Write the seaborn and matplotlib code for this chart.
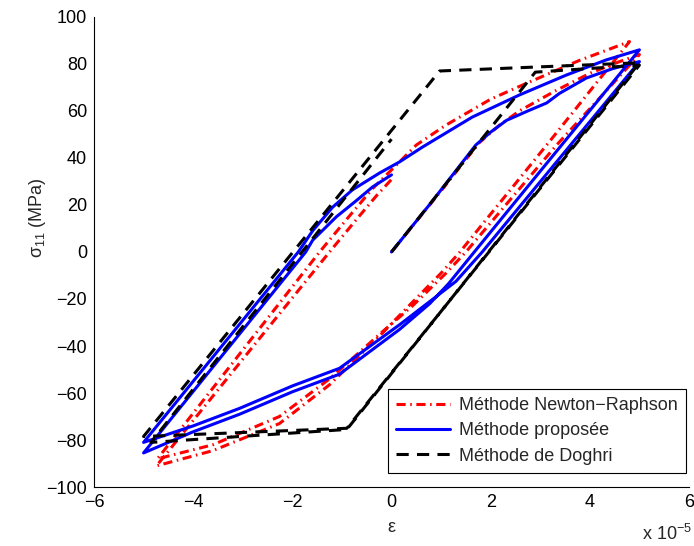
import pandas as pd
import matplotlib
matplotlib.use('Agg')
import matplotlib.pyplot as plt
import seaborn as sns

# strain in units of 1e-5, stress in MPa
eps_nr = [0, 1.0, 1.77, 2.18, 2.58, 3.3, 4.0, 4.6, 5.0,
          3.33, 1.5, 1.1, 0.42, -0.24, -1.25, -2.26, -3.6, -4.72,
          -1.45, -0.9, -0.38, 0.1, 0.5, 1.1, 2.0, 2.64, 3.79, 4.8,
          3.13, 1.38, 1.0, 0.3, -0.3, -1.25, -2.26, -3.6, -4.74,
          -1.25, -0.7, -0.3, 0.05]
sig_nr = [0, 26, 46.5, 54, 60, 68.5, 76, 81, 84,
          45.5, 0, -9, -23, -35, -54, -70, -82, -88,
          0, 14, 27, 37, 45.5, 54, 65, 71, 81.5, 89.5,
          45.5, 0, -9, -24, -37, -56.5, -73, -84.5, -91,
          0, 14, 24, 32]

eps_prop = [0, 0.8, 1.7, 2.0, 2.32, 2.75, 3.13, 3.39, 3.93, 4.46, 5.0,
            1.83, 1.3, 0.9, 0.16, -1.05, -2.0, -3.06, -4.0, -5.0,
            -1.88, -1.59, -1.19, -0.79, -0.24, 0.16, 0.63, 1.63, 2.58, 3.53, 4.33, 5.0,
            1.67, 1.15, 0.77, 0.16, -1.05, -2.0, -3.06, -4.0, -5.0,
            -1.73, -1.59, -1.11, -0.7, -0.38, 0.0]
sig_prop = [0, 21, 45.5, 51, 56, 60, 63.4, 67.5, 74, 78, 81,
            0, -12.5, -19, -31, -49.5, -57, -66.5, -74, -81,
            0, 9, 19, 26.4, 33.6, 38.3, 44.7, 57.4, 66.8, 75.3, 81.7, 86,
            0, -13.5, -22, -33, -52, -59.5, -69, -76.5, -85.5,
            0, 5, 15, 22, 27.7, 32.8]

eps_dog = [0, 2.9, 5.0, -0.9, -5.0, 0.97, 5.0, -0.9, -4.85, 0]
sig_dog = [0, 76.5, 79.5, -75, -78.5, 77, 80.5, -75.5, -81, 48]

labels = ['Méthode Newton\u2212Raphson', 'Méthode proposée', 'Méthode de Doghri']

sns.set_style("white")
plt.rcParams['font.family'] = ['Liberation Sans', 'DejaVu Sans']
plt.rcParams['mathtext.fontset'] = 'custom'
plt.rcParams['mathtext.rm'] = 'Liberation Sans'
plt.rcParams['mathtext.it'] = 'Liberation Sans:italic'

fig = plt.figure(figsize=(6.94, 5.46), dpi=100)
ax = fig.add_axes([0.1354, 0.108, 0.8574, 0.861])

df_nr = pd.DataFrame({'eps': eps_nr, 'sig': sig_nr})
df_prop = pd.DataFrame({'eps': eps_prop, 'sig': sig_prop})
df_dog = pd.DataFrame({'eps': eps_dog, 'sig': sig_dog})

sns.lineplot(data=df_nr, x='eps', y='sig', sort=False, estimator=None, ax=ax,
             color='red', lw=2.2, linestyle=(0, (3, 1.5, 0.5, 1.5)), label=labels[0])
sns.lineplot(data=df_prop, x='eps', y='sig', sort=False, estimator=None, ax=ax,
             color='blue', lw=2.2, label=labels[1])
sns.lineplot(data=df_dog, x='eps', y='sig', sort=False, estimator=None, ax=ax,
             color='black', lw=2.2, linestyle=(0, (4, 2.7)), label=labels[2])

ax.set_xlim(-6, 6)
ax.set_ylim(-100, 100)
ax.set_xticks(range(-6, 7, 2))
ax.set_yticks(range(-100, 101, 20))
ax.tick_params(direction='in', length=4, width=0.8, labelsize=13, colors='black', pad=5)
for side in ['top', 'right']:
    ax.spines[side].set_visible(False)
for side in ['left', 'bottom']:
    ax.spines[side].set_color('black')
    ax.spines[side].set_linewidth(0.8)

ax.set_xlabel('ε', fontsize=13)
ax.set_ylabel('σ$_{11}$ (MPa)', fontsize=13)
ax.xaxis.set_label_coords(0.5, -0.068)
ax.yaxis.set_label_coords(-0.078, 0.574)

fig.text(0.925, 0.022, 'x 10$^{\u22125}$', fontsize=13, va='center', ha='left')

leg = ax.legend(loc='lower right', bbox_to_anchor=(0.995, 0.03), borderaxespad=0,
                fancybox=False, framealpha=1, edgecolor='black', fontsize=13,
                handlelength=3.0, handletextpad=0.5, labelspacing=0.46, borderpad=0.45)
leg.get_frame().set_linewidth(0.8)

plt.savefig('out.png', dpi=100)
